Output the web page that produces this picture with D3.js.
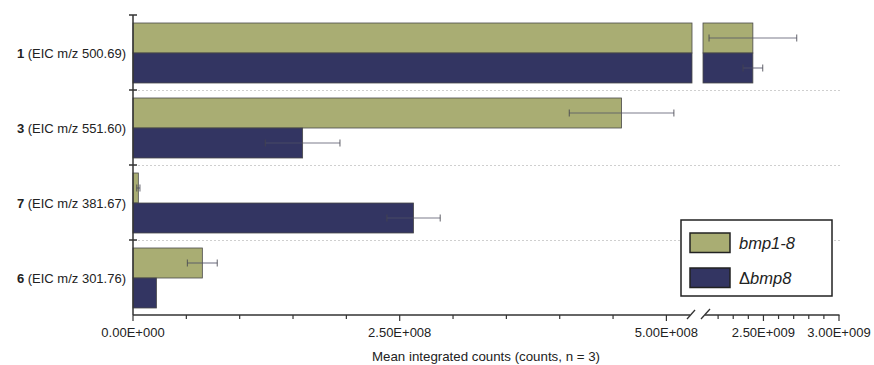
<!DOCTYPE html>
<html>
<head>
<meta charset="utf-8">
<script src="https://cdn.jsdelivr.net/npm/d3@7"></script>
<style>
  html, body { margin: 0; padding: 0; background: #fff; }
  svg { display: block; font-family: "Liberation Sans", Arial, sans-serif; }
</style>
</head>
<body>
<svg id="chart" width="874" height="365"></svg>
<script>
// Compounds (top to bottom) and their EIC labels
const compounds = ["1", "3", "7", "6"];
const eicLabels = ["(EIC m/z 500.69)", "(EIC m/z 551.60)", "(EIC m/z 381.67)", "(EIC m/z 301.76)"];

// Strains
const series = ["bmp1-8", "Δbmp8"];
const legendPrefix = ["", "Δ"];
const legendItalic = ["bmp1-8", "bmp8"];

// Mean integrated counts and standard deviations (n = 3)
const meanWT   = [2.43e9, 4.58e8, 5.0e6, 6.5e7];
const meanDel  = [2.43e9, 1.59e8, 2.63e8, 2.2e7];
const errWT    = [2.9e8, 4.9e7, 1.5e6, 1.4e7];
const errDel   = [6.5e7, 3.5e7, 2.5e7, 0];

// Axis tick labels
const tickValuesLow  = [0, 2.5e8, 5e8];
const tickValuesHigh = [2.5e9, 3e9];
const tickLabel = v => {
  if (v === 0) return "0.00E+000";
  const e = Math.floor(Math.log10(v));
  const m = v / Math.pow(10, e);
  return m.toFixed(2) + "E+" + String(e).padStart(3, "0");
};

const colors = ["#a9ad73", "#333562"];

const svg = d3.select("#chart");

// Broken x axis: two linear segments
const xLow  = d3.scaleLinear().domain([0, 5.24e8]).range([133, 692]);
const xHigh = d3.scaleLinear().domain([2.1e9, 3.0e9]).range([703, 839]);
const breakLow = xLow.domain()[1], breakHigh = xHigh.domain()[0];

const y = d3.scaleBand().domain(compounds).range([15, 315]).padding(0);
const ySub = d3.scaleBand().domain(series).range([8, 68]).padding(0);

const rows = compounds.map((c, i) => ({
  c, i,
  vals: [
    { s: series[0], v: meanWT[i], e: errWT[i] },
    { s: series[1], v: meanDel[i], e: errDel[i] }
  ]
}));

// Dotted separators between compounds
svg.append("g").selectAll("line")
  .data(compounds.slice(1))
  .join("line")
  .attr("x1", 134).attr("x2", 840)
  .attr("y1", d => y(d) + 0.5).attr("y2", d => y(d) + 0.5)
  .attr("stroke", "#cfcfcf").attr("stroke-width", 1.2)
  .attr("stroke-dasharray", "2,2");

// Map a value to an x position on the broken axis
const xPos = v => v <= breakLow ? xLow(v) : xHigh(Math.max(v, breakHigh));

// Bars
const barG = svg.append("g");
rows.forEach(r => {
  r.vals.forEach((d, j) => {
    const y0 = y(r.c) + ySub(d.s);
    const h = ySub.bandwidth();
    const segs = d.v <= breakLow
      ? [[0, d.v, xLow]]
      : [[0, breakLow, xLow], [breakHigh, d.v, xHigh]];
    segs.forEach(([a, b, sc]) => {
      barG.append("rect")
        .attr("x", sc(a)).attr("y", y0)
        .attr("width", sc(b) - sc(a)).attr("height", h)
        .attr("fill", colors[j])
        .attr("stroke", "#4a4a4a").attr("stroke-width", 0.8);
    });
  });
});

// Error bars
const errG = svg.append("g");
rows.forEach(r => {
  r.vals.forEach(d => {
    if (!d.e) return;
    const yc = y(r.c) + ySub(d.s) + ySub.bandwidth() / 2;
    const x1 = xPos(d.v - d.e), x2 = xPos(d.v + d.e);
    errG.append("line")
      .attr("x1", x1).attr("x2", x2).attr("y1", yc).attr("y2", yc)
      .attr("stroke", "#4f4f66").attr("stroke-opacity", 0.5).attr("stroke-width", 1.7);
    [x1, x2].forEach(xx => {
      errG.append("line")
        .attr("x1", xx).attr("x2", xx).attr("y1", yc - 3.5).attr("y2", yc + 3.5)
        .attr("stroke", "#44444f").attr("stroke-opacity", 0.7).attr("stroke-width", 1.2);
    });
  });
});

// Y axis
const yAxisG = svg.append("g");
yAxisG.append("line").attr("x1", 133).attr("x2", 133).attr("y1", 15).attr("y2", 315)
  .attr("stroke", "#333").attr("stroke-width", 1.5);
yAxisG.selectAll("line.tick")
  .data(compounds.map(c => y(c)))
  .join("line").attr("class", "tick")
  .attr("x1", 129).attr("x2", 137).attr("y1", d => d).attr("y2", d => d)
  .attr("stroke", "#333").attr("stroke-width", 1.5);

const yLab = yAxisG.selectAll("text")
  .data(rows)
  .join("text")
  .attr("x", 126)
  .attr("y", d => y(d.c) + ySub("Δbmp8") + 4.5)
  .attr("text-anchor", "end")
  .attr("font-size", 13)
  .attr("fill", "#222");
yLab.append("tspan").attr("font-weight", "bold").text(d => d.c);
yLab.append("tspan").text(d => " " + eicLabels[d.i]);

// X axis (two segments with break marks)
const axY = 315;
const xAxisG = svg.append("g");
xAxisG.append("line").attr("x1", 133).attr("x2", xLow.range()[1] - 2).attr("y1", axY).attr("y2", axY)
  .attr("stroke", "#333").attr("stroke-width", 1.5);
xAxisG.append("line").attr("x1", xHigh.range()[0] + 2).attr("x2", 839.5).attr("y1", axY).attr("y2", axY)
  .attr("stroke", "#333").attr("stroke-width", 1.5);
[[687, 319, 695, 310], [701, 319, 710, 309]].forEach(([a, b, c, d]) => {
  xAxisG.append("line").attr("x1", a).attr("y1", b).attr("x2", c).attr("y2", d)
    .attr("stroke", "#333").attr("stroke-width", 1.3);
});

const minorLow = d3.range(0, 5e8 + 1, 5e7);
const minorHigh = d3.range(2.2e9, 3e9 + 1, 1e8);
xAxisG.selectAll("line.tl")
  .data(minorLow)
  .join("line").attr("class", "tl")
  .attr("x1", d => xLow(d)).attr("x2", d => xLow(d))
  .attr("y1", axY).attr("y2", d => tickValuesLow.some(t => Math.abs(t - d) < 1) ? axY + 6 : axY + 4)
  .attr("stroke", "#333").attr("stroke-width", 1.2);
xAxisG.selectAll("line.th")
  .data(minorHigh)
  .join("line").attr("class", "th")
  .attr("x1", d => xHigh(d)).attr("x2", d => xHigh(d))
  .attr("y1", axY).attr("y2", d => tickValuesHigh.some(t => Math.abs(t - d) < 1) ? axY + 6 : axY + 4)
  .attr("stroke", "#333").attr("stroke-width", 1.2);

const tickTexts = tickValuesLow.map(v => ({ v, x: xLow(v) }))
  .concat(tickValuesHigh.map(v => ({ v, x: xHigh(v) })));
xAxisG.selectAll("text")
  .data(tickTexts)
  .join("text")
  .attr("x", d => d.x).attr("y", 337)
  .attr("text-anchor", "middle")
  .attr("font-size", 13)
  .attr("fill", "#222")
  .text(d => tickLabel(d.v));

svg.append("text")
  .attr("x", 486).attr("y", 361)
  .attr("text-anchor", "middle")
  .attr("font-size", 13.3)
  .attr("fill", "#222")
  .text("Mean integrated counts (counts, n = 3)");

// Legend
const lg = svg.append("g");
lg.append("rect").attr("x", 681).attr("y", 220).attr("width", 151).attr("height", 76)
  .attr("fill", "#fff").attr("stroke", "#222").attr("stroke-width", 1.5);
series.forEach((s, j) => {
  const yy = 233 + j * 35;
  lg.append("rect").attr("x", 690).attr("y", yy).attr("width", 40).attr("height", 19.5)
    .attr("fill", colors[j]).attr("stroke", "#222").attr("stroke-width", 1.5);
  const t = lg.append("text").attr("x", 739).attr("y", yy + 16)
    .attr("font-size", 16.5).attr("fill", "#222");
  if (legendPrefix[j]) t.append("tspan").text(legendPrefix[j]);
  t.append("tspan").attr("font-style", "italic").text(legendItalic[j]);
});
</script>
</body>
</html>
